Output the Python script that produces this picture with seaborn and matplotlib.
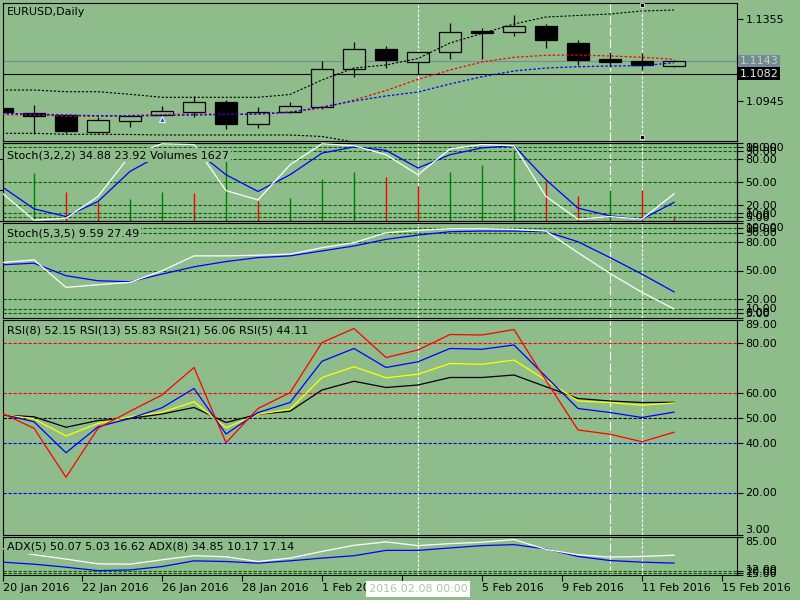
import numpy as np
import pandas as pd
import matplotlib
matplotlib.use("Agg")
import matplotlib.pyplot as plt
import matplotlib.transforms as mtransforms
import seaborn as sns

BG = "#8fbc8b"
LEVEL_GREEN = "#006400"

# one entry per daily candle
bars = list(range(22))

opens = [1.0910, 1.0884, 1.0875, 1.0790, 1.08465, 1.0873, 1.08915, 1.0940, 1.08315, 1.08885, 1.09165,
         1.11035, 1.1205, 1.11415, 1.11915, 1.1295, 1.12885, 1.1320, 1.1235, 1.1155, 1.1145, 1.11215]
highs = [1.0912, 1.0925, 1.0875, 1.0865, 1.0870, 1.0920, 1.09685, 1.0950, 1.0915, 1.0940, 1.1145,
         1.1240, 1.1220, 1.1190, 1.13365, 1.13085, 1.1375, 1.1330, 1.1250, 1.11915, 1.11835, 1.1148]
lows = [1.0888, 1.0780, 1.0785, 1.0785, 1.0815, 1.0865, 1.08665, 1.08065, 1.08115, 1.0884, 1.09035,
        1.10665, 1.11085, 1.1080, 1.11565, 1.11565, 1.12715, 1.12115, 1.11265, 1.11165, 1.1100, 1.1117]
closes = [1.0890, 1.0872, 1.0795, 1.0850, 1.0870, 1.0895, 1.0940, 1.08315, 1.08885, 1.09185, 1.11035,
          1.12035, 1.1150, 1.11885, 1.12885, 1.12865, 1.13185, 1.12515, 1.1150, 1.1140, 1.11265, 1.11435]

band_upper = [1.1000, 1.1000, 1.09915, 1.09915, 1.09785, 1.09635, 1.09635, 1.09635, 1.09635, 1.09775, 1.1050,
              1.1110, 1.1125, 1.11575, 1.1235, 1.12825, 1.1330, 1.1365, 1.13725, 1.1380, 1.1395, 1.1400]
band_lower = [1.07835, 1.07835, 1.07785, 1.07785, 1.07775, 1.0775, 1.0775, 1.0775, 1.0775, 1.0775, 1.07675,
              1.0740, 1.0720] + [np.nan] * 9
ma_red = [1.08775, 1.0875, 1.0870, 1.08685, 1.08725, 1.08775, 1.0880, 1.08785, 1.0880, 1.0890, 1.0910,
          1.0950, 1.09975, 1.10535, 1.1100, 1.1140, 1.11635, 1.11735, 1.1175, 1.1170, 1.11635, 1.11535]
ma_blue = [1.08835, 1.0880, 1.0875, 1.08715, 1.0870, 1.08725, 1.0875, 1.08775, 1.0880, 1.08885, 1.0915,
           1.0945, 1.0970, 1.0990, 1.1030, 1.10665, 1.1095, 1.1110, 1.11165, 1.1120, 1.11215, 1.11365]
buy_arrow_bar = [5]
buy_arrow_price = [1.0855]
bid_price = 1.1143
line_price = 1.1082

volumes = [12000, 15500, 9560, 6300, 7150, 9560, 9040, 19600, 6500, 7600, 13650,
           15900, 14400, 11500, 16050, 18330, 23070, 13130, 8130, 10200, 10000, 1627]

stoch1_main = [36, 1, 3.6, 31.4, 84, 99, 98, 39, 27, 72, 99,
               96.6, 85, 59.3, 92.4, 98, 96.6, 31.4, 2.3, 5.7, 2.3, 34.88]
stoch1_signal = [44, 15.6, 5.7, 25, 63.6, 86, 92, 59.3, 37.9, 59.3, 87,
                 95, 90.6, 68, 85, 93.7, 96.6, 52.9, 16.5, 6.6, 2.3, 23.92]
stoch2_main = [58.4, 61.2, 32.2, 35, 37.5, 49.7, 65.4, 65.4, 66.1, 67.2, 74,
               79.3, 89.7, 92.3, 94, 94, 93.3, 91.5, 68.8, 46.9, 27, 9.59]
stoch2_signal = [56, 57.7, 44.5, 39.2, 38.2, 46.2, 53.9, 59.4, 63.6, 65.4, 70.6,
                 75.8, 82.8, 87.3, 90.8, 91.5, 91.5, 90.8, 80.3, 63.6, 46.2, 27.49]

rsi5 = [51.7, 45.7, 26.1, 45.7, 52.5, 59, 70, 39.9, 53.6, 59.9, 80,
        85.6, 74, 77, 83.2, 83, 85.2, 64.8, 45, 43.3, 40.3, 44.11]
rsi8 = [51.3, 48.3, 35.9, 46.3, 49.6, 53.9, 61.6, 43.4, 52, 56, 72.5,
        77.6, 70, 72.3, 77.6, 77.3, 79, 66.3, 53.6, 52, 50, 52.15]
rsi13 = [51.3, 49.4, 42.6, 47.6, 50.3, 52.1, 56.3, 45.9, 51.3, 53.3, 66,
         70.3, 65.9, 67.3, 71.6, 71.3, 73, 64.9, 56.6, 56, 54.9, 55.83]
rsi21 = [51, 50.3, 46.1, 48.8, 49.6, 51.4, 54, 48, 51.3, 52.5, 61,
         64.5, 62, 63, 66, 66, 67, 62.3, 57.6, 56.6, 56, 56.06]

adx5 = [62.6, 50.9, 42.6, 33.4, 32.8, 41.2, 49, 47, 37.9, 44.5, 57.3,
        69, 75.6, 68.4, 72.3, 74.9, 80.1, 61.2, 50.9, 46.4, 47.6, 50.07]
adx8 = [36.7, 32.8, 27, 20.4, 21.7, 28.2, 39.2, 37.9, 34.8, 39.2, 44.5,
        49, 59.3, 59.3, 64, 68.4, 70.4, 62, 47.6, 39.8, 36.7, 34.85]

date_ticks = [0.03125, 2.5, 5, 7.5, 10, 12.5, 15, 17.5, 20, 22.5]
date_labels = ["20 Jan 2016", "22 Jan 2016", "26 Jan 2016", "28 Jan 2016", "1 Feb 2016",
               "3 Feb 2016", "5 Feb 2016", "9 Feb 2016", "11 Feb 2016", "15 Feb 2016"]
cursor_bar = 13
cursor_label = "2016.02.08 00:00"
vline_bars = [13, 19, 20]

plt.rcParams["font.family"] = ["DejaVu Sans"]
plt.rcParams["font.size"] = 8

XLIM = (0.03125, 22.96875)


def px_rect(top, bottom):
    return [3 / 800, 1 - bottom / 600, 734 / 800, (bottom - top) / 600]


def draw_line(ax, values, color, dashes=None, lw=0.9, z=3):
    df = pd.DataFrame({"bar": bars[:len(values)], "v": values}).dropna()
    sns.lineplot(data=df, x="bar", y="v", ax=ax, color=color, lw=lw, errorbar=None, zorder=z)
    if dashes:
        ax.lines[-1].set_dashes(dashes)
    ax.set_xlabel("")
    ax.set_ylabel("")


def right_ticks(ax, vals, fmt="{:.2f}", top=None, bottom=None):
    ax.yaxis.tick_right()
    ax.set_yticks(vals)
    ax.set_yticklabels([fmt.format(v) for v in vals])
    ax.tick_params(axis="y", direction="out", length=4, width=0.8, pad=2, labelsize=8,
                   colors="black")
    for t, v in zip(ax.yaxis.get_major_ticks(), vals):
        if v == top:
            t.label2.set_va("top")
        if v == bottom:
            t.label2.set_va("bottom")


def style_axes(ax):
    ax.set_facecolor(BG)
    for s in ax.spines.values():
        s.set_color("black")
        s.set_linewidth(0.8)
    ax.set_xlim(*XLIM)
    ax.tick_params(axis="x", bottom=False, labelbottom=False)


def vlines_white(ax):
    ax.axvline(vline_bars[0], color="white", lw=0.8, dashes=(2.5, 1.5), zorder=1)
    ax.axvline(vline_bars[1], color="white", lw=0.8, dashes=(8, 2.5), zorder=1)
    ax.axvline(vline_bars[2], color="white", lw=0.8, dashes=(2.5, 1.5), zorder=1)


def panel_label(ax, x, y, s):
    ax.text(x, y, s, transform=ax.transAxes, ha="left", va="center", fontsize=8,
            color="black", zorder=10,
            bbox=dict(boxstyle="square,pad=0.2", fc=BG, ec="none"))


fig = plt.figure(figsize=(8, 6), dpi=100, facecolor=BG)

# ---------------- price panel ----------------
ax1 = fig.add_axes(px_rect(3, 141))
style_axes(ax1)
vlines_white(ax1)
ax1.axhline(bid_price, color="#778899", lw=0.8, zorder=1.2)
ax1.axhline(line_price, color="black", lw=0.8, zorder=1.2)

o = np.array(opens)
c = np.array(closes)
bull = c >= o
ax1.vlines(bars, lows, highs, color="black", lw=0.9, zorder=2)
ax1.bar(bars, np.abs(c - o) + 0.00005, bottom=np.minimum(o, c), width=0.7,
        color=[BG if b else "black" for b in bull], edgecolor="black", linewidth=0.9, zorder=2.2)

draw_line(ax1, band_upper, "black", dashes=(2, 1.6), lw=0.8)
draw_line(ax1, band_lower, "black", dashes=(2, 1.6), lw=0.8)
draw_line(ax1, ma_red, "red", dashes=(2, 1.6), lw=0.9)
draw_line(ax1, ma_blue, "blue", dashes=(2, 1.6), lw=0.9)
ax1.plot(buy_arrow_bar, buy_arrow_price, "^", ms=5, color="#1f5fd0", mec="white", mew=0.7, zorder=5)

trans = mtransforms.blended_transform_factory(ax1.transData, ax1.transAxes)
ax1.plot([vline_bars[2]] * 2, [0.985, 0.03], "s", ms=3.2, color="black", mec="white", mew=0.5,
         transform=trans, clip_on=False, zorder=6)

ax1.set_ylim(1.0745, 1.1435)
right_ticks(ax1, [1.0945, 1.1355], fmt="{:.4f}")
ax1.set_xlim(*XLIM)
ytrans = mtransforms.blended_transform_factory(ax1.transAxes, ax1.transData)
ax1.text(1.004, bid_price, "1.1143", transform=ytrans, ha="left", va="center", fontsize=8,
         color="#b9d8b6", bbox=dict(boxstyle="square,pad=0.15", fc="#778899", ec="none"))
ax1.text(1.004, line_price, "1.1082", transform=ytrans, ha="left", va="center", fontsize=8,
         color="#e6f2e6", bbox=dict(boxstyle="square,pad=0.15", fc="black", ec="none"))
ax1.text(0.0055, 0.935, "EURUSD,Daily", transform=ax1.transAxes, ha="left", va="center", fontsize=8)

# ---------------- Stoch(3,2,2) + Volumes ----------------
ax2 = fig.add_axes(px_rect(143, 221))
style_axes(ax2)
vlines_white(ax2)
vol_colors = ["#008000"] + ["#008000" if volumes[i] > volumes[i - 1] else "red" for i in range(1, len(volumes))]
ax2.vlines(bars, 0, volumes, colors=vol_colors, lw=1.0, zorder=2)
ax2.set_ylim(0, 25350)
ax2.tick_params(axis="y", left=False, labelleft=False)

ax2s = ax2.twinx()
style_axes(ax2s)
ax2s.patch.set_visible(False)
for lv in [95, 90, 80, 50, 20, 10, 5]:
    ax2s.axhline(lv, color=LEVEL_GREEN, lw=0.8, dashes=(3, 1.5), zorder=1.5)
draw_line(ax2s, stoch1_signal, "blue")
draw_line(ax2s, stoch1_main, "white")
ax2s.set_ylim(0, 100)
ax2s.set_xlim(*XLIM)
right_ticks(ax2s, [0, 5, 10, 20, 50, 80, 90, 95, 100], top=100, bottom=0)
panel_label(ax2s, 0.005, 0.846, "Stoch(3,2,2) 34.88 23.92 Volumes 1627")

# ---------------- Stoch(5,3,5) ----------------
ax3 = fig.add_axes(px_rect(223, 318))
style_axes(ax3)
vlines_white(ax3)
for lv in [95, 90, 80, 50, 20, 10, 5]:
    ax3.axhline(lv, color=LEVEL_GREEN, lw=0.8, dashes=(3, 1.5), zorder=1.5)
draw_line(ax3, stoch2_signal, "blue")
draw_line(ax3, stoch2_main, "white")
ax3.set_ylim(0, 100)
ax3.set_xlim(*XLIM)
right_ticks(ax3, [0, 5, 10, 20, 50, 80, 90, 95, 100], top=100, bottom=0)
panel_label(ax3, 0.005, 0.89, "Stoch(5,3,5) 9.59 27.49")

# ---------------- RSI ----------------
ax4 = fig.add_axes(px_rect(320, 535))
style_axes(ax4)
vlines_white(ax4)
for lv, col in [(80, "red"), (60, "red"), (50, "black"), (40, "blue"), (20, "blue")]:
    ax4.axhline(lv, color=col, lw=0.8, dashes=(3, 1.5), zorder=1.5)
draw_line(ax4, rsi21, "black")
draw_line(ax4, rsi13, "yellow")
draw_line(ax4, rsi8, "blue")
draw_line(ax4, rsi5, "red")
ax4.set_ylim(3, 89)
ax4.set_xlim(*XLIM)
right_ticks(ax4, [3, 20, 40, 50, 60, 80, 89], top=89, bottom=3)
panel_label(ax4, 0.005, 0.953, "RSI(8) 52.15 RSI(13) 55.83 RSI(21) 56.06 RSI(5) 44.11")

# ---------------- ADX ----------------
ax5 = fig.add_axes(px_rect(537, 575))
style_axes(ax5)
vlines_white(ax5)
for lv in [20, 15]:
    ax5.axhline(lv, color=LEVEL_GREEN, lw=0.8, dashes=(3, 1.5), zorder=1.5)
draw_line(ax5, adx8, "blue")
draw_line(ax5, adx5, "white")
ax5.set_ylim(12, 85)
ax5.set_xlim(*XLIM)
right_ticks(ax5, [12, 15, 20, 85], top=85, bottom=12)
panel_label(ax5, 0.005, 0.745, "ADX(5) 50.07 5.03 16.62 ADX(8) 34.85 10.17 17.14")

ax5.set_xticks(date_ticks)
ax5.set_xticklabels(date_labels)
ax5.tick_params(axis="x", bottom=True, labelbottom=True, direction="out", length=4,
                width=0.8, pad=2, labelsize=8, colors="black")
for lbl in ax5.get_xticklabels():
    lbl.set_ha("left")

xtrans = mtransforms.blended_transform_factory(ax5.transData, ax5.transAxes)
ax5.text(cursor_bar, -0.37, cursor_label, transform=xtrans, ha="center", va="center",
         fontsize=8, color="#a9c9a6", zorder=10,
         bbox=dict(boxstyle="square,pad=0.25", fc="white", ec="none"))

plt.savefig("out.png", dpi=100, facecolor=BG)
